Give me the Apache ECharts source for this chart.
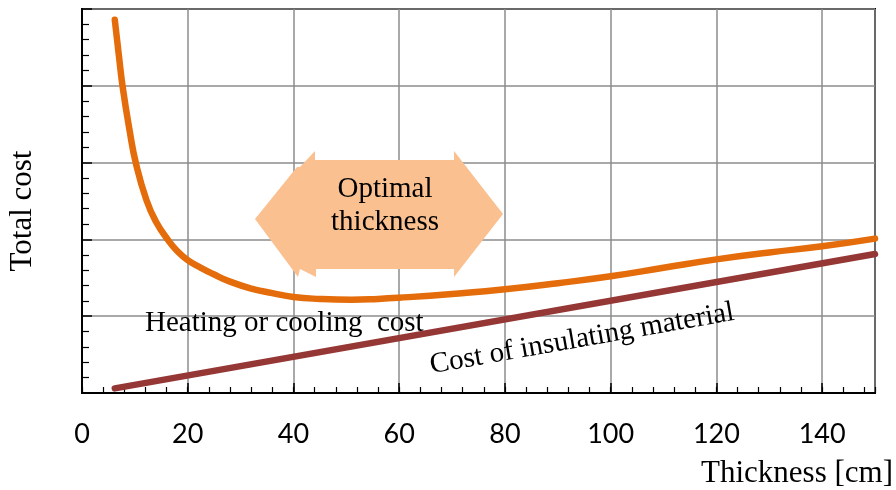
<!DOCTYPE html>
<html>
<head>
<meta charset="utf-8">
<script src="https://cdn.jsdelivr.net/npm/echarts@6/dist/echarts.min.js"></script>
<style>html,body{margin:0;padding:0;background:#fff;}#c{width:896px;height:490px;}</style>
</head>
<body>
<div id="c"></div>
<script>
// Total cost curve (orange)
var totalX = [6.2, 7.0, 7.7, 9.0, 10.2, 12.2, 14.0, 16.3, 18.0, 20.0, 22.5, 24.8, 28.0, 32.0, 36.0, 40.0, 45.0, 51.0, 56.0, 60.0, 70.0, 80.0, 90.0, 100.0, 110.0, 120.0, 130.0, 140.0, 150.0];
var totalY = [4.86, 4.38, 3.98, 3.42, 2.99, 2.51, 2.23, 1.99, 1.85, 1.73, 1.63, 1.55, 1.45, 1.36, 1.30, 1.25, 1.225, 1.215, 1.225, 1.24, 1.29, 1.35, 1.43, 1.52, 1.63, 1.74, 1.83, 1.91, 2.01];
// Cost of insulating material (brown, straight)
var insulX = [6.2, 150.0];
var insulY = [0.06, 1.81];
// Axis ticks
var xTicks = [0, 20, 40, 60, 80, 100, 120, 140];
var xMin = 0, xMax = 150, xStep = 20, xMinorStep = 4;
var yMin = 0, yMax = 5, yStep = 1;
// Texts
var xTitle = 'Thickness [cm]';
var yTitle = 'Total cost';
var arrowText = 'Optimal\nthickness';
var heatText = 'Heating or cooling  cost';
var insulText = 'Cost of insulating material';

function pairs(xs, ys) { return xs.map(function (x, i) { return [x, ys[i]]; }); }

var serif = '"Liberation Serif", "DejaVu Serif", serif';
var chart = echarts.init(document.getElementById('c'), null, { renderer: 'canvas' });
var option = {
  animation: false,
  backgroundColor: '#fff',
  grid: { left: 82, right: 21, top: 9, bottom: 97, outerBoundsMode: 'none', containLabel: false,
    show: true, borderColor: '#000', borderWidth: 2, backgroundColor: 'transparent' },
  xAxis: [{
    type: 'value', min: xMin, max: xMax, interval: xStep, position: 'bottom',
    name: xTitle, nameLocation: 'end', nameGap: 18,
    nameTextStyle: { fontFamily: serif, fontSize: 31, color: '#000', align: 'right', verticalAlign: 'top', padding: [65, 0, 0, 0] },
    axisLine: { show: true, onZero: false, lineStyle: { color: '#000', width: 2 } },
    axisTick: { show: true, inside: true, length: 10, lineStyle: { color: '#000', width: 1.5 } },
    axisLabel: { show: true, margin: 28, showMaxLabel: false, fontFamily: 'Lato', fontSize: 27, color: '#000',
      formatter: function (v) { return xTicks.indexOf(v) >= 0 ? String(v) : ''; } },
    splitLine: { show: true, lineStyle: { color: '#8c8c8c', width: 1.5 } }
  }, {
    type: 'value', min: xMin, max: xMax, interval: xMinorStep, position: 'bottom',
    axisLine: { show: false },
    axisTick: { show: true, inside: true, length: 6, lineStyle: { color: '#000', width: 1.2 } },
    axisLabel: { show: false },
    splitLine: { show: false }
  }],
  yAxis: {
    type: 'value', min: yMin, max: yMax, interval: yStep,
    name: yTitle, nameLocation: 'middle', nameGap: 44,
    nameTextStyle: { fontFamily: serif, fontSize: 31, color: '#000', padding: [0, 20, 0, 0] },
    axisLine: { show: true, lineStyle: { color: '#000', width: 2 } },
    axisTick: { show: true, inside: true, length: 10, lineStyle: { color: '#000', width: 1.5 } },
    minorTick: { show: true, splitNumber: 5, length: 7, lineStyle: { color: '#000', width: 1.2 } },
    axisLabel: { show: false },
    splitLine: { show: true, lineStyle: { color: '#8c8c8c', width: 1.5 } }
  },
  series: [{
    name: 'Cost of insulating material', type: 'line', xAxisIndex: 0, data: pairs(insulX, insulY),
    showSymbol: false, symbol: 'none', z: 3,
    lineStyle: { color: '#953735', width: 6.5, cap: 'round' }
  }, {
    name: 'Total cost', type: 'line', xAxisIndex: 0, data: pairs(totalX, totalY),
    showSymbol: false, symbol: 'none', smooth: 0.5, z: 4,
    lineStyle: { color: '#E46C0A', width: 6.5, cap: 'round', join: 'round' }
  }],
  graphic: [{
    type: 'polygon', z: 1, zlevel: 0,
    shape: { points: [[255, 219], [297, 167], [300, 167], [315, 151], [315, 160], [454, 160], [454, 151], [503, 214], [454, 277], [454, 269], [316, 269], [316, 277], [300, 269], [298, 277]] },
    style: { fill: '#FAC090' }
  }, {
    type: 'text', z: 10, x: 385, y: 206,
    style: { text: arrowText, font: '29px ' + serif, fill: '#000', align: 'center', verticalAlign: 'middle', lineHeight: 33 }
  }, {
    type: 'text', z: 10, x: 145, y: 323,
    style: { text: heatText, font: '29px ' + serif, fill: '#000', align: 'left', verticalAlign: 'middle' }
  }, {
    type: 'text', z: 10, x: 582, y: 339, rotation: 0.1745,
    style: { text: insulText, font: '29px ' + serif, fill: '#000', align: 'center', verticalAlign: 'middle' }
  }]
};
chart.setOption(option);
</script>
</body>
</html>
